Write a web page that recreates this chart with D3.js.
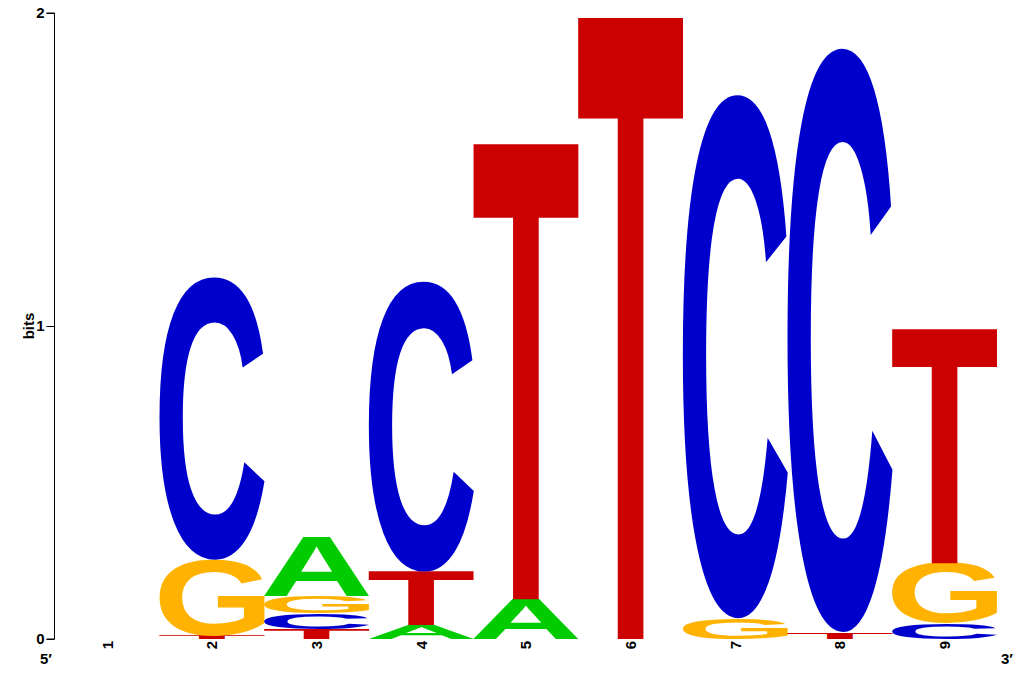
<!DOCTYPE html>
<html>
<head>
<meta charset="utf-8">
<script src="https://cdn.jsdelivr.net/npm/d3@7"></script>
<style>
  html, body { margin: 0; padding: 0; background: #fff; }
  svg { display: block; }
  text { font-family: "Liberation Sans", Arial, Helvetica, sans-serif; font-weight: bold; }
</style>
</head>
<body>
<svg id="chart" width="1020" height="680"></svg>
<script>
// ---- data ----
const positions = ["1", "2", "3", "4", "5", "6", "7", "8", "9"];
const letters = ["A", "C", "G", "T"];
const bitsA = [0, 0,     0.188, 0.045, 0.127, 0,     0,     0,     0];
const bitsC = [0, 0.902, 0.050, 0.926, 0,     0,     1.671, 1.863, 0.051];
const bitsG = [0, 0.243, 0.056, 0,     0,     0,     0.066, 0,     0.191];
const bitsT = [0, 0.010, 0.032, 0.170, 1.454, 1.984, 0,     0.022, 0.748];
const yTicks = [0, 1, 2];
const yLabel = "bits";
const endLabels = ["5′", "3′"];
const colors = { A: "#00CC00", C: "#0000CC", G: "#FFB300", T: "#CC0000" };

const series = { A: bitsA, C: bitsC, G: bitsG, T: bitsT };

// ---- layout ----
const svg = d3.select("#chart");
const x = d3.scaleBand().domain(positions).range([55, 997]).padding(0);
const y = d3.scaleLinear().domain([0, 2]).range([639, 13]);

// glyph ink metrics via pixel scan on a canvas
const FS = 500;
const CW = 1000, CH = 1000, BX = 200, BY = 700;
const canvas = document.createElement("canvas");
canvas.width = CW; canvas.height = CH;
const ctx = canvas.getContext("2d");
const metrics = {};
letters.forEach(l => {
  ctx.clearRect(0, 0, CW, CH);
  ctx.font = `bold ${FS}px "Liberation Sans", Arial, sans-serif`;
  ctx.fillStyle = "#000";
  ctx.fillText(l, BX, BY);
  const data = ctx.getImageData(0, 0, CW, CH).data;
  let minX = CW, maxX = -1, minY = CH, maxY = -1;
  for (let yy = 0; yy < CH; yy++) {
    for (let xx = 0; xx < CW; xx++) {
      if (data[(yy * CW + xx) * 4 + 3] > 127) {
        if (xx < minX) minX = xx;
        if (xx > maxX) maxX = xx;
        if (yy < minY) minY = yy;
        if (yy > maxY) maxY = yy;
      }
    }
  }
  metrics[l] = { left: BX - minX, right: maxX + 1 - BX, asc: BY - minY, desc: maxY + 1 - BY };
});

// build stacks
const stacks = positions.map((p, i) => {
  const items = letters.map(l => ({ letter: l, value: series[l][i] }))
    .filter(d => d.value > 0)
    .sort((a, b) => a.value - b.value);
  let acc = 0;
  items.forEach(d => { d.y0 = acc; acc += d.value; d.y1 = acc; d.pos = p; });
  return items;
});

const g = svg.append("g");
stacks.forEach(items => {
  items.forEach(d => {
    const m = metrics[d.letter];
    const x0 = x(d.pos);
    const w = x.bandwidth();
    const top = y(d.y1);
    const h = y(d.y0) - y(d.y1);
    const sx = w / (m.left + m.right);
    const sy = h / (m.asc + m.desc);
    g.append("text")
      .attr("transform", `translate(${x0},${top}) scale(${sx},${sy}) translate(${m.left},${m.asc})`)
      .attr("font-size", FS)
      .attr("fill", colors[d.letter])
      .text(d.letter);
  });
});

// y axis
const yAxis = d3.axisLeft(y).tickValues(yTicks).tickSize(8).tickPadding(2).tickFormat(d3.format("d"));
const ya = svg.append("g").attr("transform", "translate(54.5,0)").call(yAxis);
ya.select(".domain").attr("stroke", "#000").attr("d", `M-8,${y(2)}H0V${y(0)}H-8`);
ya.selectAll("text").attr("font-size", 15).attr("font-weight", "bold").attr("fill", "#000")
  .attr("font-family", '"Liberation Sans", Arial, sans-serif');

svg.append("text")
  .attr("transform", `translate(33.5,${y(1)}) rotate(-90)`)
  .attr("text-anchor", "middle")
  .attr("font-size", 15)
  .text(yLabel);

// position labels
svg.append("g").selectAll("text").data(positions).join("text")
  .attr("transform", d => `translate(${x(d) + x.bandwidth() / 2},641) rotate(-90)`)
  .attr("text-anchor", "end")
  .attr("dy", "0.36em")
  .attr("font-size", 15)
  .text(d => d);

// 5' / 3' labels
svg.append("text").attr("x", 46).attr("y", 663.5).attr("text-anchor", "middle")
  .attr("font-size", 15).text(endLabels[0]);
svg.append("text").attr("x", 1007).attr("y", 664).attr("text-anchor", "middle")
  .attr("font-size", 15).text(endLabels[1]);
</script>
</body>
</html>
